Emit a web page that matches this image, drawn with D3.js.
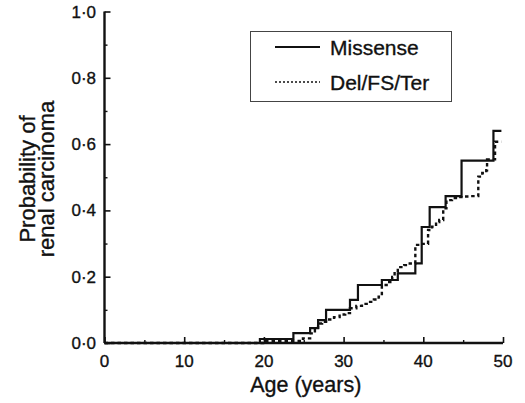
<!DOCTYPE html>
<html>
<head>
<meta charset="utf-8">
<script src="https://cdn.jsdelivr.net/npm/d3@7"></script>
<style>
  body { margin: 0; background: #fff; }
  svg { display: block; }
  text { font-family: "Liberation Sans", Arial, Helvetica, sans-serif; fill: #111; stroke: #111; stroke-width: 0.35px; }
</style>
</head>
<body>
<svg id="chart" width="525" height="403"></svg>
<script>
// tick labels
var xTicks = [0, 10, 20, 30, 40, 50];
var xMinor = [5, 15, 25, 35, 45];
var yTicks = [0, 0.2, 0.4, 0.6, 0.8, 1.0];
var yMinor = [0.1, 0.3, 0.5, 0.7, 0.9];

// Missense (solid) step curve
var missenseAge  = [0, 19.5, 23.7, 25.8, 26.8, 27.8, 30.8, 31.8, 34.8, 36.8, 39.0, 39.8, 40.8, 42.8, 44.8, 48.8, 49.8];
var missenseProb = [0, 0.012, 0.03, 0.045, 0.069, 0.10, 0.13, 0.175, 0.19, 0.21, 0.24, 0.35, 0.41, 0.443, 0.55, 0.64, 0.64];

// Del/FS/Ter (dotted) step curve
var delAge  = [0, 19.9, 24.9, 25.8, 26.4, 26.8, 27.3, 28.0, 28.8, 29.5, 30.2, 30.8, 31.6, 32.3, 33.1, 33.8, 34.4, 34.8, 35.4, 36.1, 36.4, 36.8, 37.6, 38.3, 39.0, 39.6, 40.6, 41.1, 41.6, 42.0, 42.5, 42.9, 43.6, 44.4, 45.2, 46.0, 46.9, 47.4, 47.9, 48.0, 49.0, 49.8];
var delProb = [0, 0.006, 0.014, 0.029, 0.039, 0.059, 0.064, 0.071, 0.078, 0.086, 0.090, 0.105, 0.112, 0.118, 0.124, 0.131, 0.140, 0.175, 0.184, 0.199, 0.214, 0.229, 0.235, 0.240, 0.296, 0.299, 0.341, 0.351, 0.365, 0.371, 0.406, 0.431, 0.437, 0.440, 0.442, 0.443, 0.502, 0.513, 0.521, 0.554, 0.607, 0.607];

var svg = d3.select("#chart");

var x = d3.scaleLinear().domain([0, 50]).range([104.5, 503]);
var y = d3.scaleLinear().domain([0, 1]).range([343, 11.5]);

function fmt(v) {
  return v.toFixed(1).replace(".", "\u00b7");
}

// step lines
var line = d3.line()
  .x(function (d) { return x(d[0]); })
  .y(function (d) { return y(d[1]); })
  .curve(d3.curveStepAfter);

var missense = missenseAge.map(function (a, i) { return [a, missenseProb[i]]; });
var del = delAge.map(function (a, i) { return [a, delProb[i]]; });

svg.append("path")
  .attr("d", line(del))
  .attr("fill", "none")
  .attr("stroke", "#111")
  .attr("stroke-width", 2.4)
  .attr("stroke-dasharray", "3.5,3");

svg.append("path")
  .attr("d", line(missense))
  .attr("fill", "none")
  .attr("stroke", "#111")
  .attr("stroke-width", 2.2);

// axes (ticks inward)
var xAxis = svg.append("g").attr("transform", "translate(0," + y(0) + ")");
xAxis.call(d3.axisTop(x).tickValues(xTicks).tickSize(6).tickFormat(""));
xAxis.select(".domain").remove();
xAxis.selectAll("line").attr("stroke", "#111").attr("stroke-width", 1.6);
xAxis.append("g").call(d3.axisTop(x).tickValues(xMinor).tickSize(3).tickFormat(""))
  .call(function (g) { g.select(".domain").remove(); g.selectAll("line").attr("stroke", "#111").attr("stroke-width", 1.4); });

var yAxis = svg.append("g").attr("transform", "translate(" + x(0) + ",0)");
yAxis.call(d3.axisRight(y).tickValues(yTicks).tickSize(6).tickFormat(""));
yAxis.select(".domain").remove();
yAxis.selectAll("line").attr("stroke", "#111").attr("stroke-width", 1.6);
yAxis.append("g").call(d3.axisRight(y).tickValues(yMinor).tickSize(3).tickFormat(""))
  .call(function (g) { g.select(".domain").remove(); g.selectAll("line").attr("stroke", "#111").attr("stroke-width", 1.4); });

// axis lines
svg.append("line")
  .attr("x1", x(0)).attr("x2", x(50))
  .attr("y1", y(0)).attr("y2", y(0))
  .attr("stroke", "#111").attr("stroke-width", 2.4);
svg.append("line")
  .attr("x1", x(0)).attr("x2", x(0))
  .attr("y1", y(0)).attr("y2", y(1))
  .attr("stroke", "#111").attr("stroke-width", 2.4);

// tick labels
svg.selectAll(".xlab").data(xTicks).enter().append("text")
  .attr("class", "xlab")
  .attr("x", function (d) { return x(d); })
  .attr("y", 367)
  .attr("text-anchor", "middle")
  .style("font-size", "17px")
  .text(function (d) { return d; });

svg.selectAll(".ylab").data(yTicks).enter().append("text")
  .attr("class", "ylab")
  .attr("x", 96)
  .attr("y", function (d) { return y(d) + 6; })
  .attr("text-anchor", "end")
  .style("font-size", "17px")
  .text(fmt);

// axis titles
svg.append("text")
  .attr("x", (x(0) + x(50)) / 2 + 2)
  .attr("y", 392)
  .attr("text-anchor", "middle")
  .style("font-size", "21.5px")
  .text("Age (years)");

var yt = svg.append("text")
  .attr("transform", "translate(35,179) rotate(-90)")
  .attr("text-anchor", "middle")
  .style("font-size", "22px");
yt.append("tspan").attr("x", 0).attr("y", 0).text("Probability of");
yt.append("tspan").attr("x", 0).attr("y", 18.5).text("renal carcinoma");

// legend
var legend = svg.append("g");
legend.append("rect")
  .attr("x", 250.5).attr("y", 31.5)
  .attr("width", 201).attr("height", 70)
  .attr("fill", "#fff")
  .attr("stroke", "#444")
  .attr("stroke-width", 1);

var legendItems = [
  { label: "Missense", dash: null, width: 2 },
  { label: "Del/FS/Ter", dash: "2,2", width: 1.6 }
];
legendItems.forEach(function (it, i) {
  var cy = 47 + i * 35;
  legend.append("line")
    .attr("x1", 275).attr("x2", 320)
    .attr("y1", cy).attr("y2", cy)
    .attr("stroke", "#111")
    .attr("stroke-width", it.width)
    .attr("stroke-dasharray", it.dash);
  legend.append("text")
    .attr("x", 330)
    .attr("y", cy + 7.5)
    .style("font-size", "21px")
    .text(it.label);
});
</script>
</body>
</html>
